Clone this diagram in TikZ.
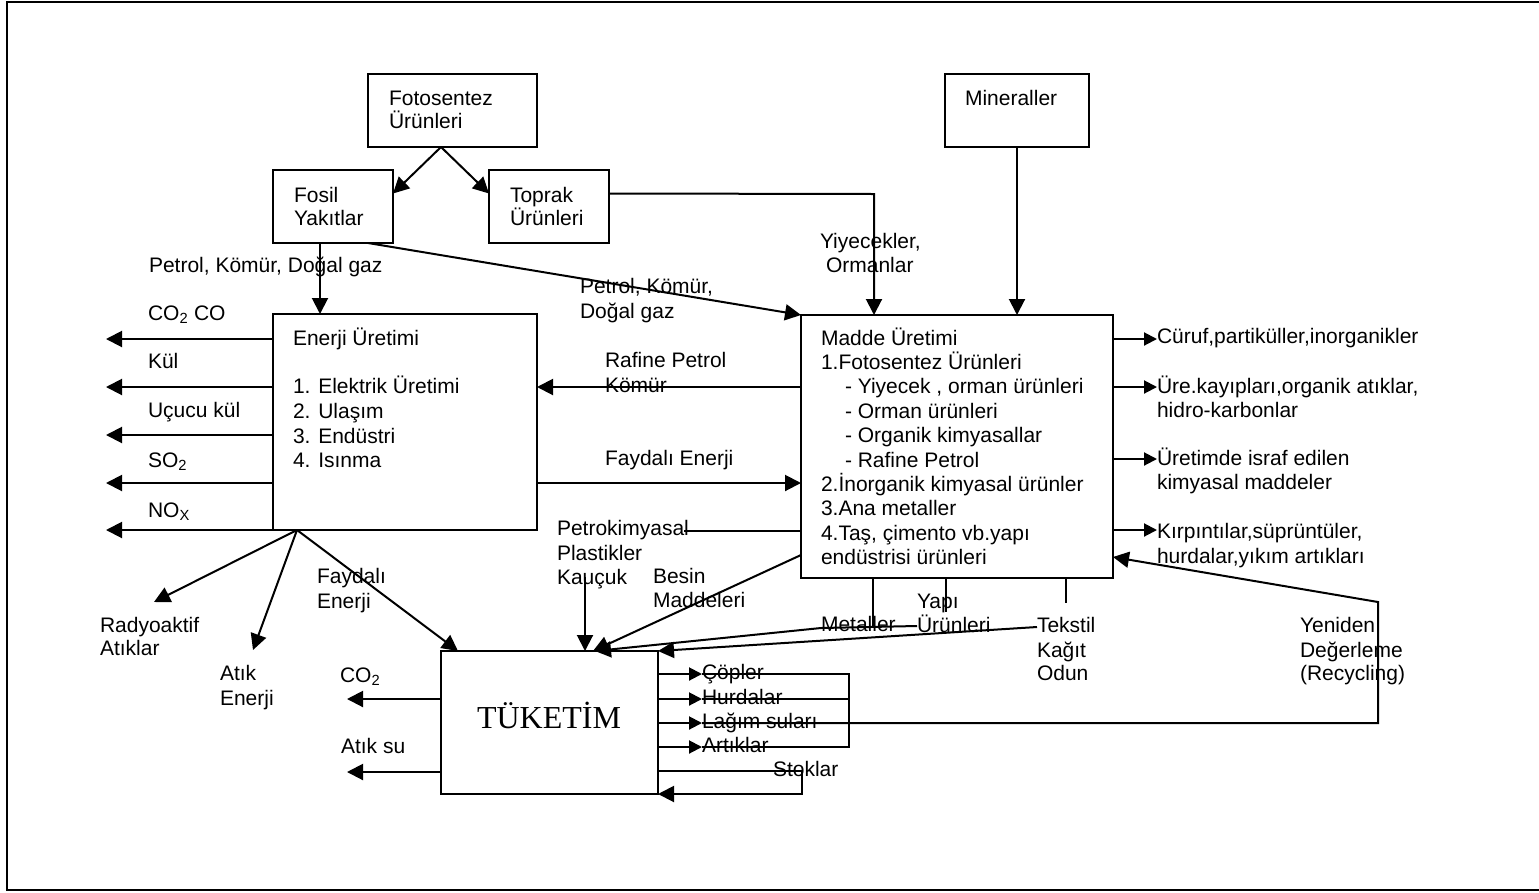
\documentclass[tikz,border=0pt]{standalone}
\usepackage{fontspec}
\setmainfont{Liberation Sans}
\newfontfamily\tukfont{Liberation Serif}
\usetikzlibrary{arrows.meta}
\newcommand\fs{\fontsize{21}{24}\selectfont}
\tikzset{
  box/.style={draw, line width=2pt, inner sep=0pt, outer sep=0pt, anchor=north west},
  lbl/.style={anchor=base west, inner sep=0pt, outer sep=0pt, font=\fs},
  arr/.style={line width=2pt, -{Triangle[length=16pt,width=16pt]}},
  sarr/.style={line width=2pt, -{Triangle[length=13pt,width=13pt]}},
  ln/.style={line width=2pt},
}
\begin{document}
\begin{tikzpicture}[x=1pt,y=-1pt]
\clip (0,0) rectangle (1539,892);
\fill[white] (0,0) rectangle (1539,892);
\draw[line width=2.5pt] (7,2) rectangle (1600,890);

% boxes
\node[box, minimum width=169pt, minimum height=73pt] (foto) at (368,74) {};
\node[box, minimum width=120pt, minimum height=73pt] (fosil) at (273,170) {};
\node[box, minimum width=120pt, minimum height=73pt] (toprak) at (489,170) {};
\node[box, minimum width=144pt, minimum height=73pt] (miner) at (945,74) {};
\node[box, minimum width=264pt, minimum height=216pt] (enerji) at (273,314) {};
\node[box, minimum width=312pt, minimum height=263pt] (madde) at (801,315) {};
\node[box, minimum width=217pt, minimum height=143pt] (tuk) at (441,651) {};

% box texts
\node[lbl] (fotoA) at (389,105) {Fotosentez};
\node[lbl] (fotoB) at (389,128) {Ürünleri};
\node[lbl] (fosilA) at (294,202) {Fosil};
\node[lbl] (fosilB) at (294,225) {Yakıtlar};
\node[lbl] (toprakA) at (510,202) {Toprak};
\node[lbl] (toprakB) at (510,225) {Ürünleri};
\node[lbl] (minerA) at (965,105) {Mineraller};

\node[lbl] (enA) at (293,345) {Enerji Üretimi};
\node[lbl] (enB) at (293,393) {1. Elektrik Üretimi};
\node[lbl] (enC) at (293,418) {2. Ulaşım};
\node[lbl] (enD) at (293,443) {3. Endüstri};
\node[lbl] (enE) at (293,467) {4. Isınma};

\node[lbl] (mdA) at (821,345) {Madde Üretimi};
\node[lbl] (mdB) at (821,369.4) {1.Fotosentez Ürünleri};
\node[lbl] (mdC) at (845,393.8) {- Yiyecek , orman ürünleri};
\node[lbl] (mdD) at (845,418.2) {- Orman ürünleri};
\node[lbl] (mdE) at (845,442.6) {- Organik kimyasallar};
\node[lbl] (mdF) at (845,467) {- Rafine Petrol};
\node[lbl] (mdG) at (821,491.4) {2.İnorganik kimyasal ürünler};
\node[lbl] (mdH) at (821,515.8) {3.Ana metaller};
\node[lbl] (mdI) at (821,540.2) {4.Taş, çimento vb.yapı};
\node[lbl] (mdJ) at (821,564.6) {endüstrisi ürünleri};

\node[anchor=base, inner sep=0pt, font=\tukfont\fontsize{32}{36}\selectfont] (tukT) at (549,728) {TÜKETİM};

% top connectors
\coordinate (fs) at (441,147);
\draw[arr] (fs) -- ([yshift=13pt]fosil.east);
\draw[arr] (fs) -- ([yshift=13pt]toprak.west);
\draw[arr] (fosil.south -| 320,0) -- (enerji.north -| 320,0);
\draw[arr] (fosil.south -| 368,0) -- (madde.north west);
\draw[arr] ([yshift=13pt]toprak.east) -- (874,194) -- (madde.north -| 874,0);
\draw[arr] (miner.south -| 1017,0) -- (madde.north -| 1017,0);

% enerji left outputs
\foreach \y in {339,387,435,483} \draw[arr] (enerji.west |- 0,\y) -- (106,\y);
\draw[arr] (enerji.south west) -- (106,530);

% enerji <-> madde
\draw[arr] (madde.west |- 0,387) -- (enerji.east |- 0,387);
\draw[arr] (enerji.east |- 0,483) -- (madde.west |- 0,483);
\draw[ln] (madde.west |- 0,531) -- (684,531);
\draw[arr] (585,577) -- (tuk.north -| 585,0);
\draw[arr] (madde.west |- 0,555) -- (tuk.north -| 593,0);

% madde right outputs
\foreach \y in {339,387,459,530} \draw[sarr] (madde.east |- 0,\y) -- (1157,\y);

% fan from enerji bottom
\coordinate (fan) at (297,530);
\draw[arr] (fan) -- (154,602);
\draw[arr] (fan) -- (253,650);
\draw[arr] (fan) -- (tuk.north -| 458,0);

% madde bottom stubs and lines to tuketim
\draw[ln] (madde.south -| 873,0) -- (873,628);
\draw[ln] (madde.south -| 946,0) -- (946,612);
\draw[ln] (madde.south -| 1066,0) -- (1066,603);
\draw[arr] (917,626) -- (821,628) -- (tuk.north -| 595,0);
\draw[arr] (1037,627) -- (tuk.north east);

% tuketim outputs
\draw[arr] (tuk.west |- 0,699) -- (347,699);
\draw[arr] (tuk.west |- 0,772) -- (347,772);
\foreach \y in {674,699,723,747} \draw[sarr] (tuk.east |- 0,\y) -- (702,\y);
\draw[ln] (702,674) -- (849,674) -- (849,747) -- (702,747);
\draw[ln] (702,699) -- (849,699);
\draw[arr] (702,723) -- (1378,723) -- (1378,602) -- (madde.east |- 0,557);
\draw[arr] (tuk.east |- 0,771) -- (802,771) -- (802,794) -- (tuk.south east);

% labels
\node[lbl] (pkd) at (149,272) {Petrol, Kömür, Doğal gaz};
\node[lbl] (co2co) at (148,320) {CO\textsubscript{2} CO};
\node[lbl] (kul) at (148,368) {Kül};
\node[lbl] (ucucu) at (148,417) {Uçucu kül};
\node[lbl] (so2) at (148,467) {SO\textsubscript{2}};
\node[lbl] (nox) at (148,517) {NO\textsubscript{X}};
\node[lbl] (rafA) at (605,367) {Rafine Petrol};
\node[lbl] (rafB) at (605,392) {Kömür};
\node[lbl] (fayd) at (605,465) {Faydalı Enerji};
\node[lbl] (pkA) at (580,293) {Petrol, Kömür,};
\node[lbl] (pkB) at (580,318) {Doğal gaz};
\node[lbl] (yiyA) at (820,248) {Yiyecekler,};
\node[lbl] (yiyB) at (826,272) {Ormanlar};
\node[lbl] (rA) at (1157,343) {Cüruf,partiküller,inorganikler};
\node[lbl] (rB) at (1157,393) {Üre.kayıpları,organik atıklar,};
\node[lbl] (rC) at (1157,417) {hidro-karbonlar};
\node[lbl] (rD) at (1157,465) {Üretimde israf edilen};
\node[lbl] (rE) at (1157,489) {kimyasal maddeler};
\node[lbl] (rF) at (1157,538) {Kırpıntılar,süprüntüler,};
\node[lbl] (rG) at (1157,563) {hurdalar,yıkım artıkları};
\node[lbl] (ptA) at (557,535) {Petrokimyasal};
\node[lbl] (ptB) at (557,560) {Plastikler};
\node[lbl] (ptC) at (557,584) {Kauçuk};
\node[lbl] (beA) at (653,583) {Besin};
\node[lbl] (beB) at (653,607) {Maddeleri};
\node[lbl] (feA) at (317,583) {Faydalı};
\node[lbl] (feB) at (317,608) {Enerji};
\node[lbl] (raA) at (100,632) {Radyoaktif};
\node[lbl] (raB) at (100,655) {Atıklar};
\node[lbl] (aeA) at (220,680) {Atık};
\node[lbl] (aeB) at (220,705) {Enerji};
\node[lbl] (tco2) at (340,682) {CO\textsubscript{2}};
\node[lbl] (atsu) at (341,753) {Atık su};
\node[lbl] (cop) at (702,679) {Çöpler};
\node[lbl] (hur) at (702,704) {Hurdalar};
\node[lbl] (lag) at (702,728) {Lağım suları};
\node[lbl] (art) at (702,752) {Artıklar};
\node[lbl] (stok) at (773,776) {Stoklar};
\node[lbl] (met) at (821,631) {Metaller};
\node[lbl] (yapA) at (917,608) {Yapı};
\node[lbl] (yapB) at (917,632) {Ürünleri};
\node[lbl] (tekA) at (1037,632) {Tekstil};
\node[lbl] (tekB) at (1037,657) {Kağıt};
\node[lbl] (tekC) at (1037,680) {Odun};
\node[lbl] (yenA) at (1300,632) {Yeniden};
\node[lbl] (yenB) at (1300,657) {Değerleme};
\node[lbl] (yenC) at (1300,680) {(Recycling)};
\end{tikzpicture}
\end{document}
